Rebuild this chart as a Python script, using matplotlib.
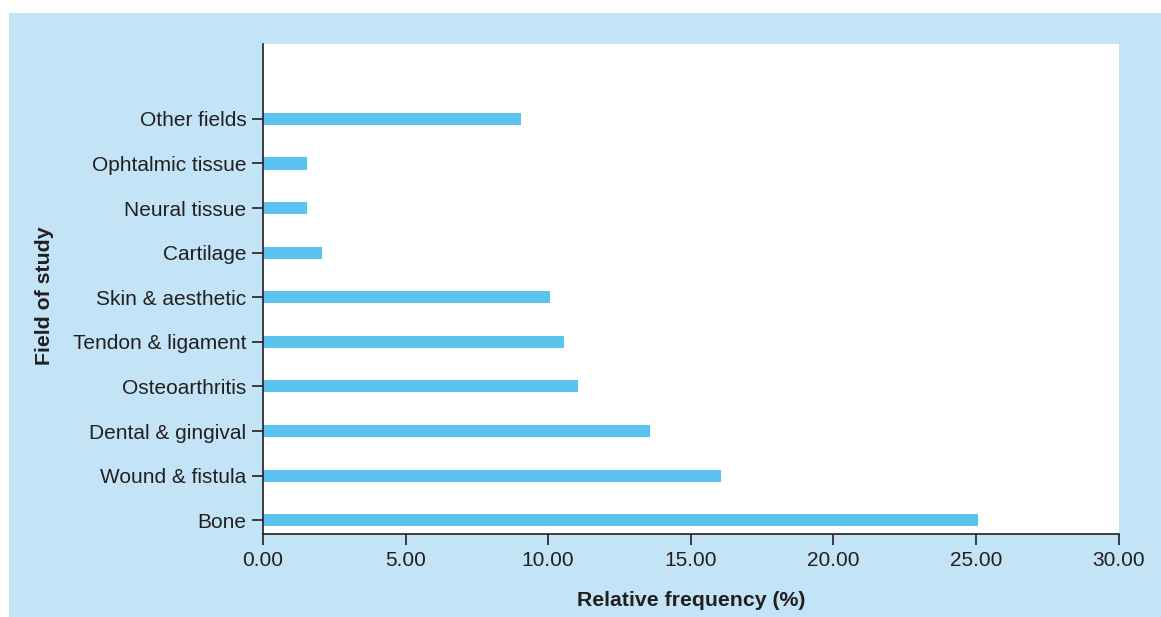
import matplotlib.pyplot as plt
from matplotlib.patches import Rectangle
import numpy as np

plt.rcParams['font.family'] = ['Liberation Sans', 'DejaVu Sans']

# data (bottom to top)
fields = ['Bone', 'Wound & fistula', 'Dental & gingival', 'Osteoarthritis',
          'Tendon & ligament', 'Skin & aesthetic', 'Cartilage', 'Neural tissue',
          'Ophtalmic tissue', 'Other fields']
frequency = [25.07, 16.06, 13.56, 11.05, 10.55, 10.05, 2.06, 1.55, 1.55, 9.05]
x_ticks = [0, 5, 10, 15, 20, 25, 30]

PANEL_COLOR = '#c3e4f6'
BAR_COLOR = '#5bc3ef'
TEXT_COLOR = '#231f20'

W, H = 1161, 617
fig = plt.figure(figsize=(W / 100, H / 100), dpi=100, facecolor='white')
fig.patches.append(Rectangle((9 / W, 0), 1 - 9 / W, 1 - 13 / H,
                             transform=fig.transFigure, facecolor=PANEL_COLOR,
                             edgecolor='none', zorder=-10))

ax = fig.add_axes([263 / W, 1 - 534 / H, (1118.5 - 263) / W, (534 - 44) / H])
ax.set_facecolor('white')

y = np.arange(len(fields))
ax.barh(y, frequency, height=0.27, color=BAR_COLOR, zorder=2)

ax.set_xlim(0, 30)
ax.set_ylim(-0.31, 10.68)
ax.set_yticks(y)
ax.set_yticklabels(fields)
ax.set_xticks(x_ticks)
ax.set_xticklabels([f'{v:.2f}' for v in x_ticks])

for side in ['top', 'right']:
    ax.spines[side].set_visible(False)
for side in ['left', 'bottom']:
    ax.spines[side].set_color(TEXT_COLOR)
    ax.spines[side].set_linewidth(1.2)

ax.tick_params(axis='x', direction='out', length=8, width=1.2, pad=4,
               labelsize=15, colors=TEXT_COLOR)
ax.tick_params(axis='y', direction='out', length=8, width=1.2, pad=4,
               labelsize=15, colors=TEXT_COLOR)

ax.set_xlabel('Relative frequency (%)', fontsize=15.3, fontweight='bold',
              color=TEXT_COLOR)
ax.xaxis.set_label_coords(0.5, -0.116)
ax.set_ylabel('Field of study', fontsize=15.3, fontweight='bold',
              color=TEXT_COLOR)
ax.yaxis.set_label_coords(-0.2443, 0.486)

fig.savefig('out.png', dpi=100, facecolor=fig.get_facecolor())
